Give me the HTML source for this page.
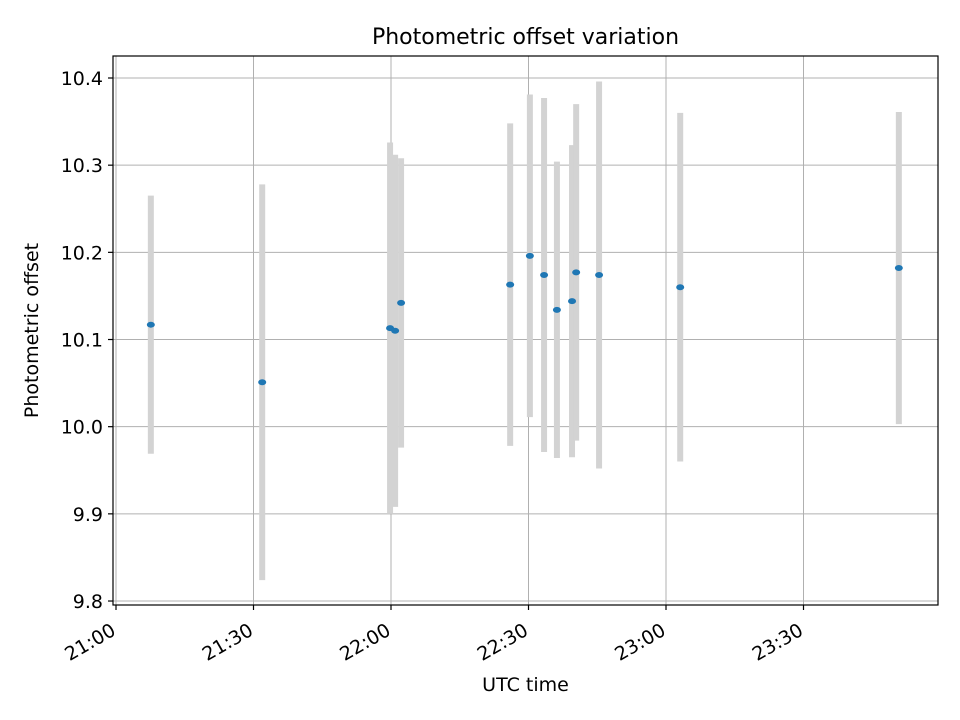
<!DOCTYPE html>
<html><head><meta charset="utf-8"><style>
html,body{margin:0;padding:0;background:#fff;}
svg{display:block;font-family:"DejaVu Sans","Liberation Sans",sans-serif;}
</style></head><body>
<svg id="chart" width="960" height="720"></svg>
<script>
const minutes = [7.6, 31.9, 59.8, 60.9, 62.2, 86.0, 90.3, 93.4, 96.2, 99.5, 100.4, 105.4, 123.1, 170.8];
const offsets = [10.117, 10.051, 10.113, 10.110, 10.142, 10.163, 10.196, 10.174, 10.134, 10.144, 10.177, 10.174, 10.160, 10.182];
const errors = [0.148, 0.227, 0.213, 0.202, 0.166, 0.185, 0.185, 0.203, 0.170, 0.179, 0.193, 0.222, 0.200, 0.179];
const xTickValues = [0, 30, 60, 90, 120, 150];
const xTickLabels = ["21:00", "21:30", "22:00", "22:30", "23:00", "23:30"];
const yTickValues = [9.8, 9.9, 10.0, 10.1, 10.2, 10.3, 10.4];
const yTickLabels = ["9.8", "9.9", "10.0", "10.1", "10.2", "10.3", "10.4"];

const NS = "http://www.w3.org/2000/svg";
const svg = document.getElementById("chart");
const L = 113, R = 938, T = 56, B = 605;
function xs(m){ return 116 + m * 137.5 / 30; }
function ys(v){ return 78 + (10.4 - v) * 871.7; }
function mk(tag, attrs, parent){
  const e = document.createElementNS(NS, tag);
  for (const k in attrs) e.setAttribute(k, attrs[k]);
  (parent || svg).appendChild(e);
  return e;
}
const grid = mk("g", {});


xTickValues.forEach((v, i) => {
  const x = xs(v);
  mk("line", {x1:x, x2:x, y1:T, y2:B, stroke:"#b0b0b0", "stroke-width":1}, grid);
  mk("line", {x1:x, x2:x, y1:B, y2:B+5, stroke:"#000", "stroke-width":1.2});
  const px = x + 1, py = B + 29;
  const t = mk("text", {x:px, y:py, "font-size":"19", "text-anchor":"end", transform:`rotate(-30 ${px} ${py})`});
  t.textContent = xTickLabels[i];
  
  
});
yTickValues.forEach((v, i) => {
  const y = ys(v);
  mk("line", {x1:L, x2:R, y1:y, y2:y, stroke:"#b0b0b0", "stroke-width":1}, grid);
  mk("line", {x1:L-5, x2:L, y1:y, y2:y, stroke:"#000", "stroke-width":1.2});
  const t = mk("text", {x:L-10, y:y+7, "font-size":"19", "text-anchor":"end"});
  t.textContent = yTickLabels[i];
  
  
});
const series = mk("g", {});


minutes.forEach((m, i) => {
  const x = xs(m);
  const eb = mk("line", {x1:x, x2:x, y1:ys(offsets[i]+errors[i]), y2:ys(offsets[i]-errors[i]), stroke:"#d3d3d3", "stroke-width":6}, series);
  
  
});
minutes.forEach((m, i) => {
  const p = mk("ellipse", {cx:xs(m), cy:ys(offsets[i]), rx:4, ry:3, fill:"#1f77b4"}, series);
  
  
});
const frame = mk("rect", {x:L, y:T, width:R-L, height:B-T, fill:"none", stroke:"#000", "stroke-width":1.2});


const title = mk("text", {x:(L+R)/2, y:44, "font-size":"22", "text-anchor":"middle"});
title.textContent = "Photometric offset variation";


const xt = mk("text", {x:(L+R)/2, y:691, "font-size":"19", "text-anchor":"middle"});
xt.textContent = "UTC time";


const yt = mk("text", {x:38, y:(T+B)/2, "font-size":"19", "text-anchor":"middle", transform:`rotate(-90 38 ${(T+B)/2})`});
yt.textContent = "Photometric offset";


</script>
</body></html>
